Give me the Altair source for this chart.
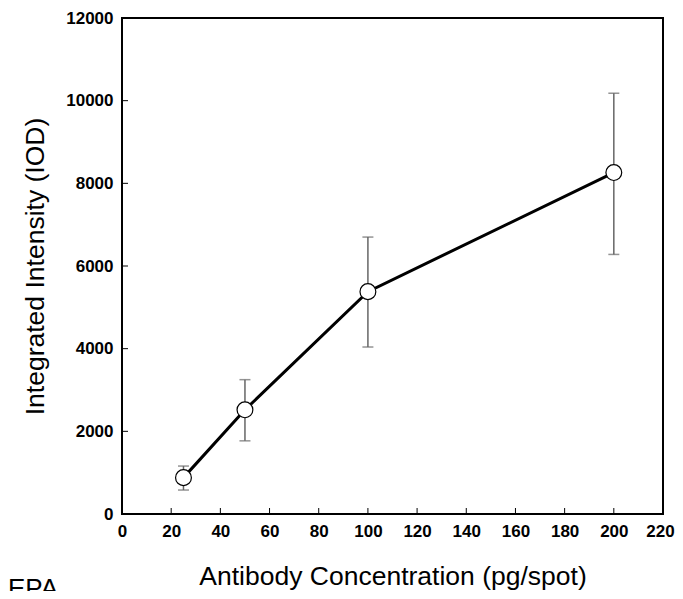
import altair as alt
import pandas as pd

conc = [25, 50, 100, 200]
intensity = [880, 2520, 5380, 8260]
err_upper = [1160, 3250, 6700, 10180]
err_lower = [580, 1770, 4040, 6280]
x_ticks = [0, 20, 40, 60, 80, 100, 120, 140, 160, 180, 200, 220]
y_ticks = [0, 2000, 4000, 6000, 8000, 10000, 12000]

df = pd.DataFrame({"conc": conc, "val": intensity, "hi": err_upper, "lo": err_lower})
dx = pd.DataFrame({"t": x_ticks})
dy = pd.DataFrame({"t": y_ticks})

W, H = 541, 496
FONT = "Liberation Sans"

xs = alt.Scale(domain=[0, 220], nice=False, zero=False)
ys = alt.Scale(domain=[0, 12000], nice=False)

xaxis = alt.Axis(values=x_ticks, format="d", domain=False, ticks=False, grid=False,
                 labelFont=FONT, labelFontWeight="bold", labelFontSize=17, labelColor="black",
                 labelPadding=9, labelFlush=False,
                 labelOffset={"condition": {"test": "datum.value == 220", "value": -3}, "value": 0},
                 title="Antibody Concentration (pg/spot)", titleFont=FONT, titleFontWeight="normal",
                 titleFontSize=26.5, titleColor="black", titleY=62, titleBaseline="middle")
yaxis = alt.Axis(values=y_ticks, format="d", domain=False, ticks=False, grid=False,
                 labelFont=FONT, labelFontWeight="bold", labelFontSize=17, labelColor="black",
                 labelPadding=9, labelFlush=False,
                 title="Integrated Intensity (IOD)", titleFont=FONT, titleFontWeight="normal",
                 titleFontSize=26.5, titleColor="black", titleX=-87, titleY=H / 2,
                 titleAngle=-90, titleAlign="center", titleBaseline="middle")

base = alt.Chart(df)

line = base.mark_line(color="black", strokeWidth=3).encode(
    x=alt.X("conc:Q", scale=xs, axis=xaxis),
    y=alt.Y("val:Q", scale=ys, axis=yaxis),
)
err = base.mark_rule(color="#666666", strokeWidth=1.5).encode(
    x="conc:Q", y="lo:Q", y2="hi:Q"
)
cap_hi = base.mark_tick(color="#666666", thickness=1.5, size=11, orient="horizontal").encode(
    x="conc:Q", y="hi:Q"
)
cap_lo = base.mark_tick(color="#666666", thickness=1.5, size=11, orient="horizontal").encode(
    x="conc:Q", y="lo:Q"
)
pts = base.mark_point(shape="circle", filled=False, fill="white", fillOpacity=1,
                      stroke="black", strokeWidth=1.2, size=250, opacity=1).encode(
    x="conc:Q", y="val:Q"
)
xt = alt.Chart(dx).mark_rule(color="black", strokeWidth=1).encode(
    x=alt.X("t:Q", scale=xs), y=alt.value(H), y2=alt.value(H - 6)
)
yt = alt.Chart(dy).mark_rule(color="black", strokeWidth=1).encode(
    y=alt.Y("t:Q", scale=ys), x=alt.value(0), x2=alt.value(6)
)
epa = alt.Chart(pd.DataFrame({"s": ["EPA"]})).mark_text(
    font=FONT, fontSize=26, align="left", baseline="top", color="black"
).encode(text="s:N", x=alt.value(-114), y=alt.value(H + 62))

chart = alt.layer(err, cap_hi, cap_lo, xt, yt, line, pts, epa).properties(
    width=W, height=H,
    autosize=alt.AutoSizeParams(type="none"),
    padding={"left": 114, "top": 10, "right": 12, "bottom": 77},
).configure(background="white").configure_view(stroke="black", strokeWidth=2)

chart.save("out.html", embed_options={"renderer": "svg", "actions": False})
